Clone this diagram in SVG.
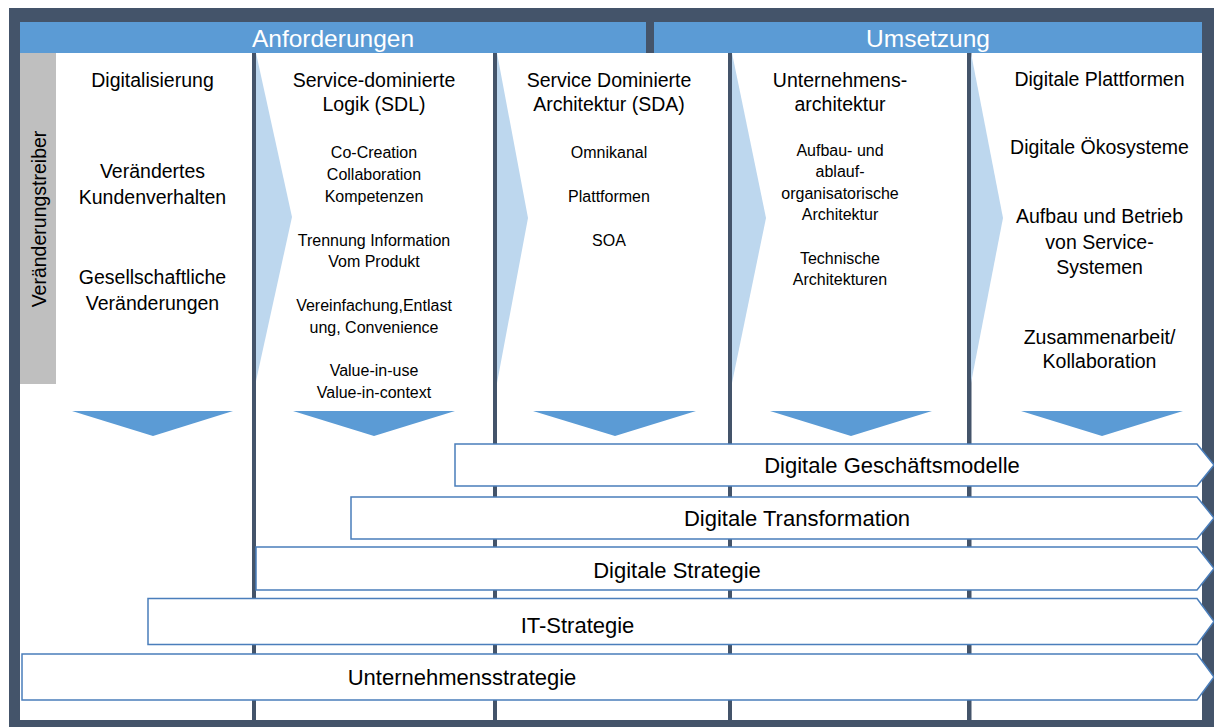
<svg xmlns="http://www.w3.org/2000/svg" width="1214" height="727" viewBox="0 0 1214 727">
<style>
text{font-family:"Liberation Sans",Arial,sans-serif;fill:#000;text-anchor:middle}
.hd{font-size:24.5px;fill:#fff}
.big{font-size:19.5px}
.sm{font-size:16px}
.bar{font-size:22px}
.div{fill:#44546A}
.chev{fill:#BDD7EE}
.down{fill:#5B9BD5}
.band{fill:#fff;stroke:#4A7EBB;stroke-width:1.5}
</style>
<rect x="0" y="0" width="1214" height="727" fill="#fff"/>
<rect id="frame" x="9" y="8" width="1205" height="719" fill="#44546A"/>
<rect x="20" y="53" width="1182" height="667" fill="#fff"/>
<g id="header-anforderungen">
<rect x="20" y="22" width="626" height="31" fill="#5B9BD5"/>
<text class="hd" x="333" y="46.5">Anforderungen</text>
</g>
<g id="header-umsetzung">
<rect x="654" y="22" width="548" height="31" fill="#5B9BD5"/>
<text class="hd" x="928" y="46.5">Umsetzung</text>
</g>
<g id="dividers">
<rect class="div" x="252" y="53" width="4" height="667"/>
<rect class="div" x="493" y="53" width="4" height="667"/>
<rect class="div" x="728" y="53" width="4" height="667"/>
<rect class="div" x="967" y="53" width="4.5" height="667"/>
</g>
<g id="treiber">
<rect x="20" y="53" width="36" height="331" fill="#BFBFBF"/>
<text class="big" transform="translate(46,219) rotate(-90)" x="0" y="0">Veränderungstreiber</text>
</g>
<g id="connectors">
<polygon class="chev" points="256,53 292,217 256,381"/>
<polygon class="chev" points="497,53 528,218 497,383"/>
<polygon class="chev" points="732,53 766,218 732,383"/>
<polygon class="chev" points="971,53 1003,218 971,383"/>
<polygon class="down" points="72,411 233,411 153,436"/>
<polygon class="down" points="293,411 455,411 374,436"/>
<polygon class="down" points="533,411 696,411 615,436"/>
<polygon class="down" points="770,411 932,411 851,436"/>
<polygon class="down" points="1021,411 1183,411 1102,436"/>
</g>
<g id="col-digitalisierung">
<text class="big" x="152.5" y="87">Digitalisierung</text>
<text class="big" x="152.5" y="178">Verändertes</text>
<text class="big" x="152.5" y="204">Kundenverhalten</text>
<text class="big" x="152.5" y="284">Gesellschaftliche</text>
<text class="big" x="152.5" y="310">Veränderungen</text>
</g>
<g id="col-sdl">
<text class="big" x="374" y="87">Service-dominierte</text>
<text class="big" x="374" y="111">Logik (SDL)</text>
<text class="sm" x="374" y="158">Co-Creation</text>
<text class="sm" x="374" y="180">Collaboration</text>
<text class="sm" x="374" y="201.5">Kompetenzen</text>
<text class="sm" x="374" y="246">Trennung Information</text>
<text class="sm" x="374" y="267">Vom Produkt</text>
<text class="sm" x="374" y="311">Vereinfachung,Entlast</text>
<text class="sm" x="374" y="332.5">ung, Convenience</text>
<text class="sm" x="374" y="376">Value-in-use</text>
<text class="sm" x="374" y="397.5">Value-in-context</text>
</g>
<g id="col-sda">
<text class="big" x="609" y="87">Service Dominierte</text>
<text class="big" x="609" y="111">Architektur (SDA)</text>
<text class="sm" x="609" y="158">Omnikanal</text>
<text class="sm" x="609" y="201.5">Plattformen</text>
<text class="sm" x="609" y="246">SOA</text>
</g>
<g id="col-unternehmensarchitektur">
<text class="big" x="840" y="87">Unternehmens-</text>
<text class="big" x="840" y="111">architektur</text>
<text class="sm" x="840" y="155.5">Aufbau- und</text>
<text class="sm" x="840" y="177">ablauf-</text>
<text class="sm" x="840" y="198.5">organisatorische</text>
<text class="sm" x="840" y="220">Architektur</text>
<text class="sm" x="840" y="263.5">Technische</text>
<text class="sm" x="840" y="285">Architekturen</text>
</g>
<g id="col-plattformen">
<text class="big" x="1099.5" y="86">Digitale Plattformen</text>
<text class="big" x="1099.5" y="154">Digitale Ökosysteme</text>
<text class="big" x="1099.5" y="223">Aufbau und Betrieb</text>
<text class="big" x="1099.5" y="249">von Service-</text>
<text class="big" x="1099.5" y="274">Systemen</text>
<text class="big" x="1099.5" y="344">Zusammenarbeit/</text>
<text class="big" x="1099.5" y="368">Kollaboration</text>
</g>
<g id="bar-geschaeftsmodelle">
<polygon class="band" points="455,444 1197,444 1214,465 1197,486 455,486"/>
<text class="bar" x="892" y="472.5">Digitale Geschäftsmodelle</text>
</g>
<g id="bar-transformation">
<polygon class="band" points="351,497 1197,497 1214,518 1197,539 351,539"/>
<text class="bar" x="797" y="526">Digitale Transformation</text>
</g>
<g id="bar-digitale-strategie">
<polygon class="band" points="256,547 1197,547 1214,568.5 1197,590 256,590"/>
<text class="bar" x="677" y="578">Digitale Strategie</text>
</g>
<g id="bar-it-strategie">
<polygon class="band" points="148,598.5 1197,598.5 1214,621.5 1197,644.5 148,644.5"/>
<text class="bar" x="577.5" y="632.5">IT-Strategie</text>
</g>
<g id="bar-unternehmensstrategie">
<polygon class="band" points="22,654 1197,654 1214,677 1197,700 22,700"/>
<text class="bar" x="462" y="685">Unternehmensstrategie</text>
</g>
</svg>
